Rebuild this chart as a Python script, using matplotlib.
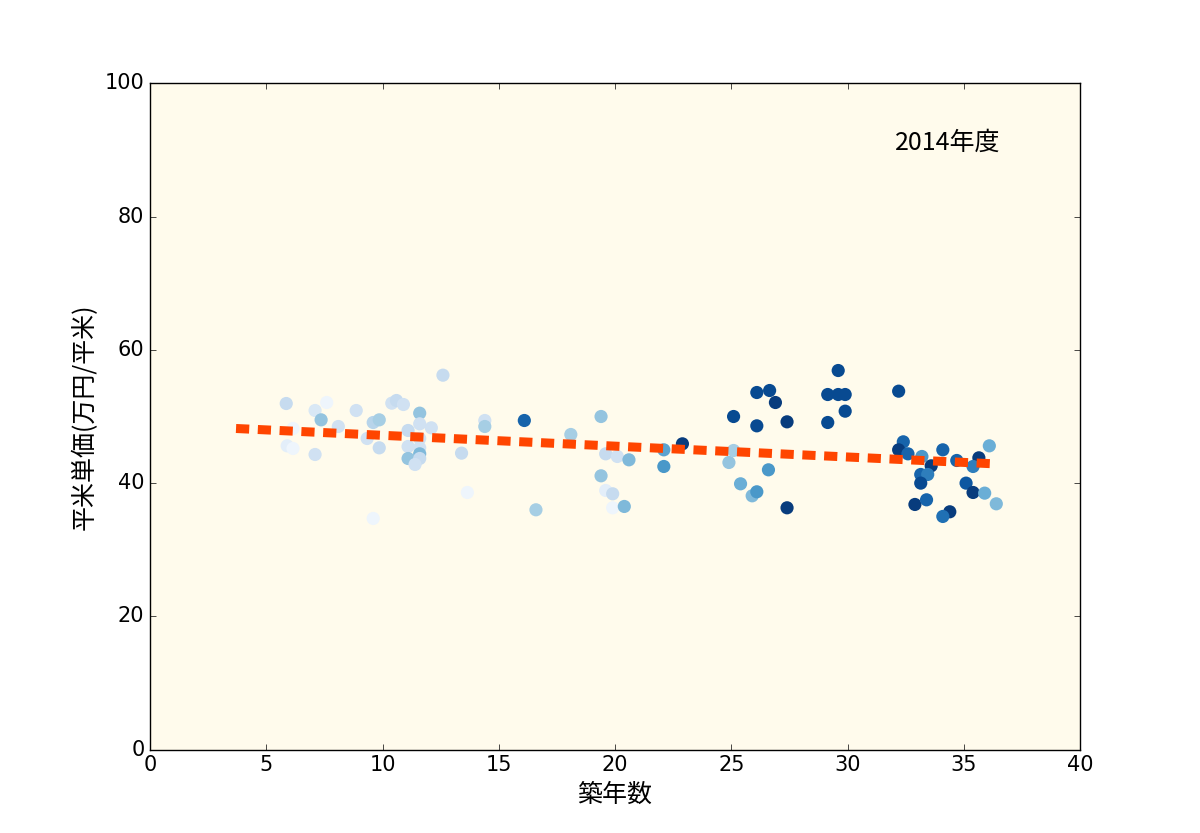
import numpy as np
import matplotlib
matplotlib.use('Agg')
import matplotlib.pyplot as plt

# 築年数, 平米単価, 色 (Blues)
age = [5.86, 5.9, 6.15, 6.15, 7.1, 7.1, 7.36, 7.6, 8.1, 8.87, 9.34, 9.6, 9.86, 9.86, 9.6,
       10.4, 10.6, 10.9, 12.6, 11.6, 11.6, 12.1, 11.1, 11.6, 11.1, 11.6, 11.6, 11.1, 11.6,
       11.4, 14.4, 14.4, 13.4, 13.65,
       16.1, 19.4, 18.1, 19.6, 20.1, 20.6, 19.4, 19.6, 19.9, 19.9, 20.4, 16.6, 22.1, 22.1, 22.9,
       29.6, 26.1, 26.65, 26.9, 29.15, 29.6, 29.9, 29.9, 29.15, 25.1, 26.1, 27.4, 27.4,
       25.1, 24.9, 26.6, 25.4, 25.9, 26.1,
       32.2, 32.4, 32.2, 32.6, 33.2, 34.1, 33.6, 34.7, 35.65, 35.4, 36.1, 33.15, 33.45, 33.15,
       35.1, 35.4, 35.9, 36.4, 32.9, 33.4, 34.4, 34.1]
price = [51.95, 45.6, 45.2, 48.2, 50.9, 44.3, 49.5, 52.1, 48.5, 50.9, 46.7, 49.1, 49.5, 45.3, 34.7,
         52.0, 52.4, 51.8, 56.2, 50.5, 48.9, 48.3, 47.9, 46.7, 45.5, 45.3, 44.4, 43.7, 43.7,
         42.8, 49.4, 48.5, 44.5, 38.6,
         49.4, 50.0, 47.3, 44.4, 44.0, 43.5, 41.1, 38.9, 38.4, 36.3, 36.5, 36.0, 45.0, 42.5, 45.9,
         56.9, 53.6, 53.9, 52.1, 53.3, 53.3, 53.3, 50.8, 49.1, 50.0, 48.6, 49.2, 36.3,
         44.9, 43.1, 42.0, 39.9, 38.1, 38.7,
         53.8, 46.2, 45.0, 44.4, 44.0, 45.0, 42.6, 43.4, 43.8, 42.5, 45.6, 41.3, 41.3, 40.0,
         40.0, 38.6, 38.5, 36.9, 36.8, 37.5, 35.7, 35.0]
tone = [0.25, 0.1, 0.05, 0.05, 0.15, 0.2, 0.4, 0.05, 0.2, 0.2, 0.2, 0.3, 0.35, 0.25, 0.05,
        0.2, 0.25, 0.2, 0.25, 0.4, 0.2, 0.2, 0.25, 0.2, 0.2, 0.2, 0.45, 0.4, 0.25,
        0.2, 0.2, 0.35, 0.25, 0.05,
        0.8, 0.4, 0.35, 0.25, 0.2, 0.45, 0.4, 0.1, 0.25, 0.05, 0.45, 0.35, 0.55, 0.6, 0.95,
        0.9, 0.9, 0.9, 0.95, 0.9, 0.9, 0.9, 0.9, 0.9, 0.9, 0.9, 0.95, 0.95,
        0.35, 0.4, 0.6, 0.5, 0.45, 0.6,
        0.9, 0.8, 0.95, 0.8, 0.6, 0.8, 0.95, 0.8, 0.95, 0.7, 0.5, 0.8, 0.7, 0.9,
        0.85, 0.95, 0.5, 0.45, 0.95, 0.8, 0.95, 0.75]

# 回帰線 (両端)
trend_x = [3.7, 36.3]
trend_y = [48.2, 42.9]

plt.style.use('classic')
plt.rcParams['font.family'] = ['DejaVu Sans', 'Noto Sans CJK JP']
jp = ['Noto Sans CJK JP', 'DejaVu Sans']

fig = plt.figure(figsize=(12, 8.33), dpi=100)
ax = fig.add_subplot(111)
ax.set_facecolor('#fffbec')

ax.scatter(age, price, c=tone, cmap='Blues', vmin=0, vmax=1, s=90,
           edgecolors='none', zorder=2)
ax.plot(trend_x, trend_y, color='#ff4500', linestyle='--', linewidth=6.5,
        dashes=(9.5, 6.2), zorder=3)

ax.text(32.05, 91.1, '2014年度', fontsize=18, family=jp, va='center')
ax.set_xlim(0, 40)
ax.set_ylim(0, 100)
ax.set_xlabel('築年数', fontsize=18, family=jp)
ax.set_ylabel('平米単価(万円/平米)', fontsize=18, family=jp)
ax.tick_params(labelsize=15)

fig.savefig('out.png', dpi=100)
